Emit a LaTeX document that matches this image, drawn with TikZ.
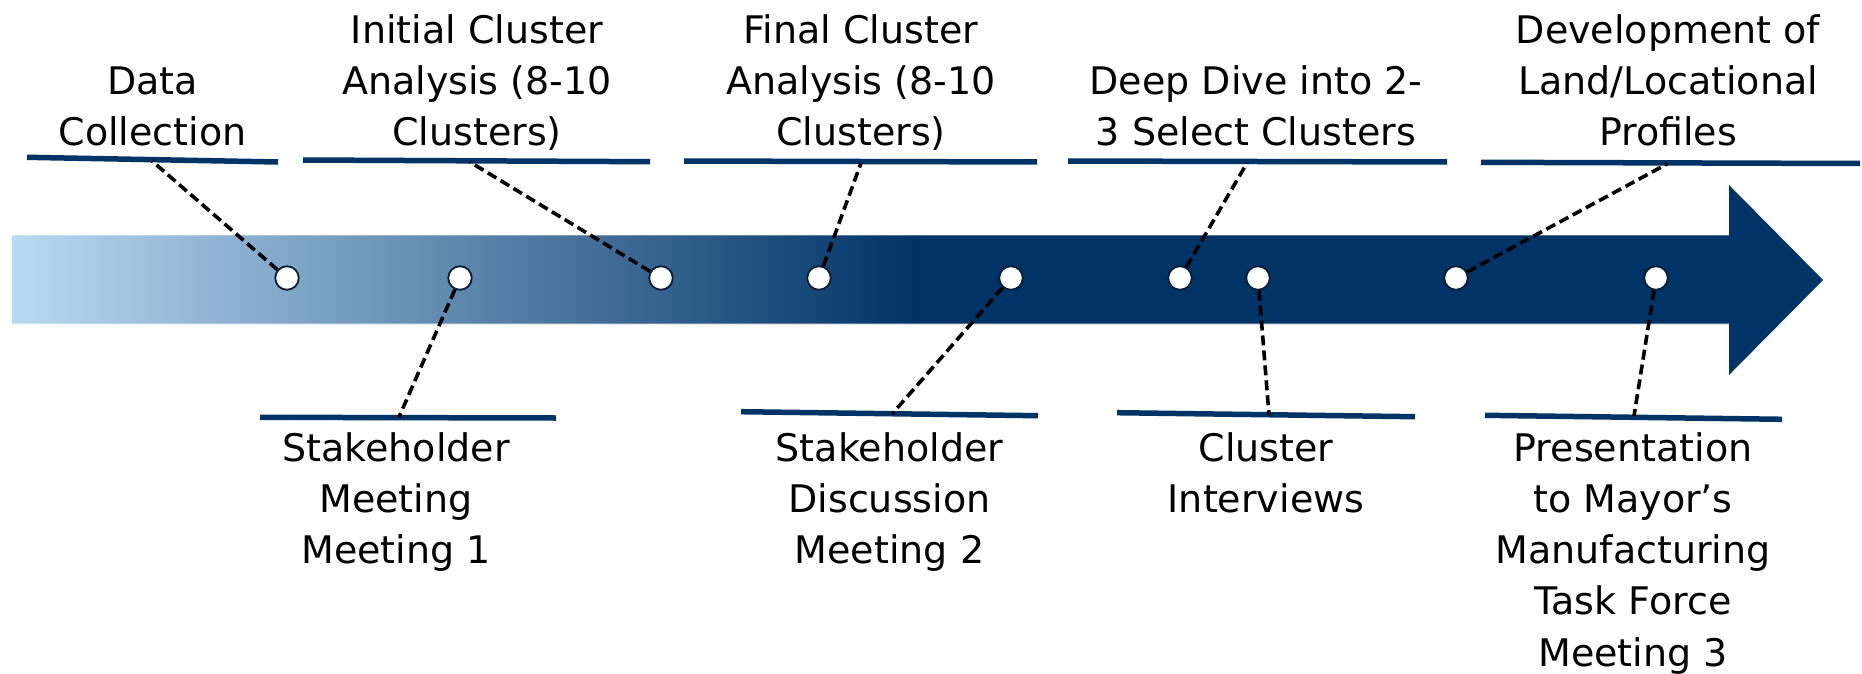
\documentclass[tikz,border=0pt]{standalone}
\usepackage{fontspec}
\setmainfont{DejaVu Sans}
\definecolor{navy}{RGB}{0,51,102}
\definecolor{skyl}{RGB}{186,217,242}
\definecolor{ringc}{RGB}{10,30,55}
\pgfdeclarehorizontalshading{tlshade}{100bp}{color(0bp)=(skyl); color(25bp)=(skyl); color(50bp)=(navy); color(100bp)=(navy)}
\newcommand{\lblDepth}{\rule[-15pt]{0pt}{15pt}}
\newcommand{\lblHeight}{\rule{0pt}{36pt}}
\begin{document}
\begin{tikzpicture}[x=1pt,y=-1pt,
  bar/.style={draw=navy,line width=5.5pt},
  link/.style={draw=black,line width=3.6pt,dash pattern=on 10pt off 5pt},
  dot/.style={circle,draw=ringc,line width=1.8pt,fill=white,minimum size=23.5pt,inner sep=0pt},
  lbl/.style={font=\fontsize{38}{51.2}\selectfont,align=center,inner sep=0pt,text=black},
  toplbl/.style={lbl,anchor=south},
  botlbl/.style={lbl,anchor=north}]
\useasboundingbox (0,0) rectangle (1862,674);
% arrow
\path[shading=tlshade] (12,235) -- (1729,235) -- (1729,185) -- (1823,280) -- (1729,375) -- (1729,324) -- (12,324) -- cycle;
\draw[white,opacity=0.3,line width=1.2pt] (12,235.5) -- (1729,235.5);
\draw[white,opacity=0.3,line width=1.2pt] (12,323.5) -- (1729,323.5);
% bars (top)
\coordinate (a1) at (27,157.3);  \coordinate (b1) at (278,162);
\coordinate (a2) at (303,160);   \coordinate (b2) at (650,161.7);
\coordinate (a3) at (684,161);   \coordinate (b3) at (1037,162);
\coordinate (a4) at (1068,161);  \coordinate (b4) at (1447,162);
\coordinate (a5) at (1481,162.3);\coordinate (b5) at (1860,163.5);
% bars (bottom)
\coordinate (a6) at (260,417.3); \coordinate (b6) at (556,418);
\coordinate (a7) at (741,411.7); \coordinate (b7) at (1038,415.7);
\coordinate (a8) at (1117,412.7);\coordinate (b8) at (1415,416.7);
\coordinate (a9) at (1485,415.3);\coordinate (b9) at (1782,419.3);
\foreach \i in {1,...,9} { \draw[bar] (a\i) -- (b\i); }
% connector ends on bars
\coordinate (k1) at (152,161);
\coordinate (k2) at (470,162);
\coordinate (k3) at (861,163);
\coordinate (k4) at (1247,163);
\coordinate (k5) at (1667,164);
\coordinate (k6) at (399,417);
\coordinate (k7) at (892,414);
\coordinate (k8) at (1269,415);
\coordinate (k9) at (1634,416);
% milestone dots
\node[dot] (p1) at (287,278) {};
\node[dot] (p2) at (460,278) {};
\node[dot] (p3) at (661,278) {};
\node[dot] (p4) at (819,278) {};
\node[dot] (p5) at (1011,278) {};
\node[dot] (p6) at (1180,278) {};
\node[dot] (p7) at (1258,278) {};
\node[dot] (p8) at (1456,278) {};
\node[dot] (p9) at (1656,278) {};
% connectors
\draw[link] (p1) -- (k1);
\draw[link] (p3) -- (k2);
\draw[link] (p4) -- (k3);
\draw[link] (p6) -- (k4);
\draw[link] (p8) -- (k5);
\draw[link] (p2) -- (k6);
\draw[link] (p5) -- (k7);
\draw[link] (p7) -- (k8);
\draw[link] (p9) -- (k9);
% labels
\node[toplbl] (t1) at (152.5,161) {Data\\Collection\lblDepth};
\node[toplbl] (t2) at (477,161) {Initial Cluster\\Analysis (8-10\\Clusters)\lblDepth};
\node[toplbl] (t3) at (861,161) {Final Cluster\\Analysis (8-10\\Clusters)\lblDepth};
\node[toplbl] (t4) at (1256,161) {Deep Dive into 2-\\3 Select Clusters\lblDepth};
\node[toplbl] (t5) at (1668,161) {Development of\\Land/Locational\\Profiles\lblDepth};
\node[botlbl] (t6) at (396,425) {\lblHeight Stakeholder\\Meeting\\Meeting 1};
\node[botlbl] (t7) at (889.5,425) {\lblHeight Stakeholder\\Discussion\\Meeting 2};
\node[botlbl] (t8) at (1266,425) {\lblHeight Cluster\\Interviews};
\node[botlbl] (t9) at (1633,425) {\lblHeight Presentation\\to Mayor’s\\Manufacturing\\Task Force\\Meeting 3};
\end{tikzpicture}
\end{document}
